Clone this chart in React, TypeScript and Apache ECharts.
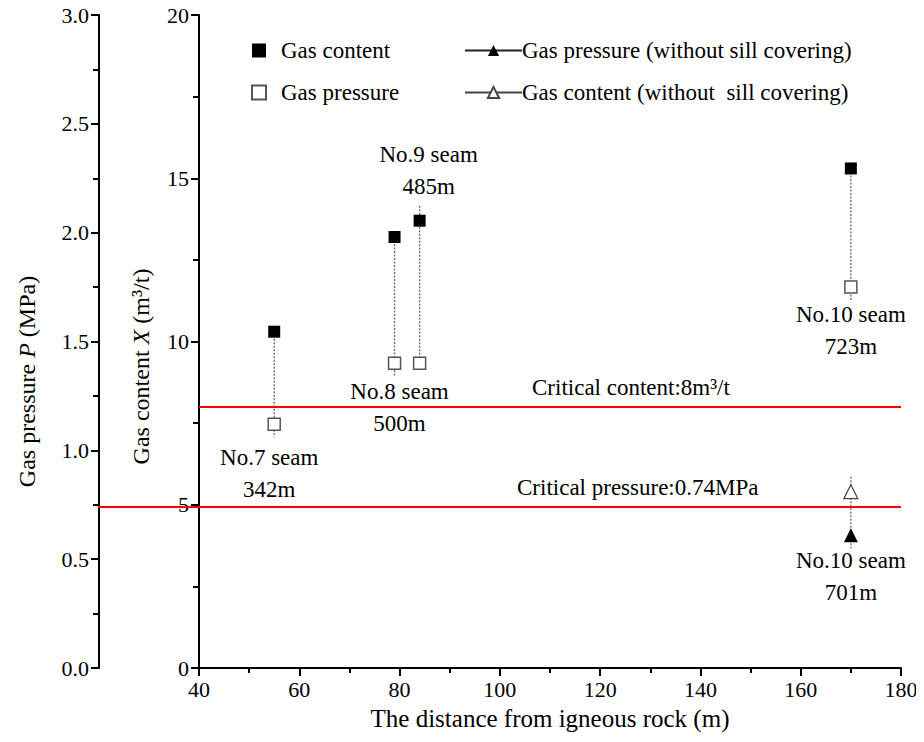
import React, { useEffect, useRef } from 'react';
import * as echarts from 'echarts';

// ---- data ----
const distance = [55, 79, 84, 170]; // distance from igneous rock (m)
const gasContent = [10.3, 13.2, 13.7, 15.3]; // m3/t
const gasPressure = [1.12, 1.4, 1.4, 1.75]; // MPa
const seamNames = ['No.7 seam', 'No.8 seam', 'No.9 seam', 'No.10 seam'];
const seamDepths = ['342m', '500m', '485m', '723m'];

const noSillDistance = [170];
const noSillPressure = [0.61];
const noSillContent = [5.4];
const noSillSeam = ['No.10 seam'];
const noSillDepth = ['701m'];

const criticalContent = 8;
const criticalPressure = 0.74;

const xRange = { min: 40, max: 180, interval: 20 };
const contentRange = { min: 0, max: 20, interval: 5 };
const pressureRange = { min: 0, max: 3, interval: 0.5 };

const SERIF = "'Liberation Serif', 'Times New Roman', 'DejaVu Serif', serif";

// label placement per seam (layout only)
const seamLabelLayout = [
  { on: 'pressure', position: 'bottom', distance: 11, offset: [-5, 0] },
  { on: 'pressure', position: 'bottom', distance: 5, offset: [5, 0] },
  { on: 'content', position: 'top', distance: 12, offset: [9, 0] },
  { on: 'pressure', position: 'bottom', distance: 5, offset: [0, 0] },
];
// leader extension direction: 1 = below, -1 = above, 0 = both
const leaderDir = [1, 1, -1, 1];

export default function App() {
  const ref = useRef<HTMLDivElement>(null);

  useEffect(() => {
    if (!ref.current) return;
    const chart = echarts.init(ref.current, null, { renderer: 'svg' });
    const ratio = contentRange.max / pressureRange.max;

    const labelText = {
      fontFamily: SERIF,
      fontSize: 23,
      color: '#000',
      lineHeight: 32,
    };

    const contentData = distance.map((x, i) => {
      const l = seamLabelLayout[i];
      const item: any = { value: [x, gasContent[i]] };
      if (l.on === 'content') {
        item.label = {
          show: true,
          position: l.position,
          distance: l.distance,
          offset: l.offset,
          formatter: `${seamNames[i]}\n${seamDepths[i]}`,
          ...labelText,
        };
      }
      return item;
    });
    const pressureData = distance.map((x, i) => {
      const l = seamLabelLayout[i];
      const item: any = { value: [x, gasPressure[i]] };
      if (l.on === 'pressure') {
        item.label = {
          show: true,
          position: l.position,
          distance: l.distance,
          offset: l.offset,
          formatter: `${seamNames[i]}\n${seamDepths[i]}`,
          ...labelText,
        };
      }
      return item;
    });

    const leaderData = [
      ...distance.map((x, i) => [x, gasContent[i], gasPressure[i] * ratio, leaderDir[i]]),
      ...noSillDistance.map((x, i) => [x, noSillContent[i], noSillPressure[i] * ratio, 0]),
    ];

    const axisLine = { show: true, onZero: false, lineStyle: { color: '#000', width: 2 } };
    const axisLabel = { color: '#000', fontFamily: SERIF, fontSize: 22 };
    const tick = { show: true, inside: false, length: 8, lineStyle: { color: '#000', width: 2 } };
    const minor = { show: true, splitNumber: 2, length: 6, lineStyle: { color: '#000', width: 2 } };

    const option: any = {
      animation: false,
      backgroundColor: '#fff',
      grid: { left: 199, right: 23, top: 15, bottom: 74, containLabel: false },
      legend: [
        {
          orient: 'vertical',
          left: 246,
          top: 34,
          itemGap: 19,
          itemWidth: 14,
          itemHeight: 14,
          textStyle: { fontFamily: SERIF, fontSize: 23, color: '#000', padding: [0, 0, 0, 10] },
          data: ['Gas content', 'Gas pressure'],
        },
        {
          orient: 'vertical',
          left: 459,
          top: 34,
          itemGap: 19,
          itemWidth: 57,
          itemHeight: 14,
          textStyle: { fontFamily: SERIF, fontSize: 23, color: '#000', padding: [0, 0, 0, -5] },
          data: ['Gas pressure (without sill covering)', 'Gas content (without  sill covering)'],
        },
      ],
      xAxis: {
        type: 'value',
        min: xRange.min,
        max: xRange.max,
        interval: xRange.interval,
        axisLine,
        axisTick: tick,
        minorTick: { ...minor, length: 5 },
        splitLine: { show: false },
        axisLabel: { ...axisLabel, margin: 10 },
        name: 'The distance from igneous rock (m)',
        nameLocation: 'middle',
        nameGap: 38,
        nameTextStyle: { fontFamily: SERIF, fontSize: 25, color: '#000' },
      },
      yAxis: [
        {
          type: 'value',
          position: 'left',
          min: contentRange.min,
          max: contentRange.max,
          interval: contentRange.interval,
          axisLine,
          axisTick: tick,
          minorTick: minor,
          splitLine: { show: false },
          axisLabel: { ...axisLabel, margin: 10 },
          name: 'Gas content {i|X} (m³/t)',
          nameLocation: 'middle',
          nameGap: 46,
          nameTextStyle: {
            fontFamily: SERIF,
            fontSize: 24,
            color: '#000',
            padding: [0, 50, 0, 0],
            rich: { i: { fontFamily: SERIF, fontSize: 24, fontStyle: 'italic', color: '#000' } },
          },
        },
        {
          type: 'value',
          position: 'left',
          offset: 100,
          min: pressureRange.min,
          max: pressureRange.max,
          interval: pressureRange.interval,
          axisLine,
          axisTick: tick,
          minorTick: minor,
          splitLine: { show: false },
          axisLabel: { ...axisLabel, margin: 10, formatter: (v: number) => v.toFixed(1) },
          name: 'Gas pressure {i|P} (MPa)',
          nameLocation: 'middle',
          nameGap: 60,
          nameTextStyle: {
            fontFamily: SERIF,
            fontSize: 24,
            color: '#000',
            padding: [0, 80, 0, 0],
            rich: { i: { fontFamily: SERIF, fontSize: 24, fontStyle: 'italic', color: '#000' } },
          },
        },
      ],
      series: [
        {
          type: 'custom',
          name: 'leaders',
          xAxisIndex: 0,
          yAxisIndex: 0,
          z: 1,
          silent: true,
          encode: { x: 0, y: [1, 2] },
          data: leaderData,
          renderItem: (params: any, api: any) => {
            const x = api.value(0);
            const a = api.coord([x, api.value(1)]);
            const b = api.coord([x, api.value(2)]);
            const dir = api.value(3);
            let top = Math.min(a[1], b[1]);
            let bottom = Math.max(a[1], b[1]);
            if (dir >= 0) bottom += 13;
            if (dir <= 0) top -= 15;
            return {
              type: 'line',
              shape: { x1: a[0], y1: top, x2: a[0], y2: bottom },
              style: { stroke: '#666', lineWidth: 1.3, lineDash: [2, 1.5] },
            };
          },
        },
        {
          type: 'scatter',
          name: 'Gas content',
          yAxisIndex: 0,
          symbol: 'rect',
          symbolSize: 12,
          z: 3,
          itemStyle: { color: '#000', opacity: 1 },
          data: contentData,
          markLine: {
            silent: true,
            symbol: 'none',
            animation: false,
            lineStyle: { color: '#ff0000', width: 2, type: 'solid' },
            label: {
              show: true,
              position: 'insideStartTop',
              distance: [333, 8],
              formatter: `Critical content:${criticalContent}m³/t`,
              fontFamily: SERIF,
              fontSize: 23,
              color: '#000',
            },
            data: [[{ coord: [xRange.min, criticalContent] }, { coord: [xRange.max, criticalContent] }]],
          },
        },
        {
          type: 'scatter',
          name: 'Gas pressure',
          yAxisIndex: 1,
          symbol: 'rect',
          symbolSize: 12,
          z: 3,
          itemStyle: { color: '#fff', borderColor: '#555', borderWidth: 1.5, opacity: 1 },
          data: pressureData,
          markLine: {
            silent: true,
            symbol: 'none',
            animation: false,
            lineStyle: { color: '#ff0000', width: 2, type: 'solid' },
            label: {
              show: true,
              position: 'insideStartTop',
              distance: [419, 8],
              formatter: `Critical pressure:${criticalPressure}MPa`,
              fontFamily: SERIF,
              fontSize: 23,
              color: '#000',
            },
            data: [[{ x: 98, yAxis: criticalPressure }, { xAxis: xRange.max, yAxis: criticalPressure }]],
          },
        },
        {
          type: 'line',
          name: 'Gas pressure (without sill covering)',
          yAxisIndex: 1,
          symbol: 'triangle',
          symbolSize: 14,
          z: 3,
          lineStyle: { color: '#222', width: 1 },
          itemStyle: { color: '#000' },
          data: noSillDistance.map((x, i) => ({
            value: [x, noSillPressure[i]],
            label: {
              show: true,
              position: 'bottom',
              distance: 2,
              formatter: `${noSillSeam[i]}\n${noSillDepth[i]}`,
              ...labelText,
            },
          })),
        },
        {
          type: 'line',
          name: 'Gas content (without  sill covering)',
          yAxisIndex: 0,
          symbol: 'triangle',
          symbolSize: 14,
          z: 3,
          lineStyle: { color: '#444', width: 1 },
          itemStyle: { color: '#fff', borderColor: '#444', borderWidth: 1.2 },
          data: noSillDistance.map((x, i) => [x, noSillContent[i]]),
        },
      ],
    };

    chart.setOption(option);
    return () => chart.dispose();
  }, []);

  return <div ref={ref} style={{ width: 924, height: 742, margin: -8 }} />;
}
